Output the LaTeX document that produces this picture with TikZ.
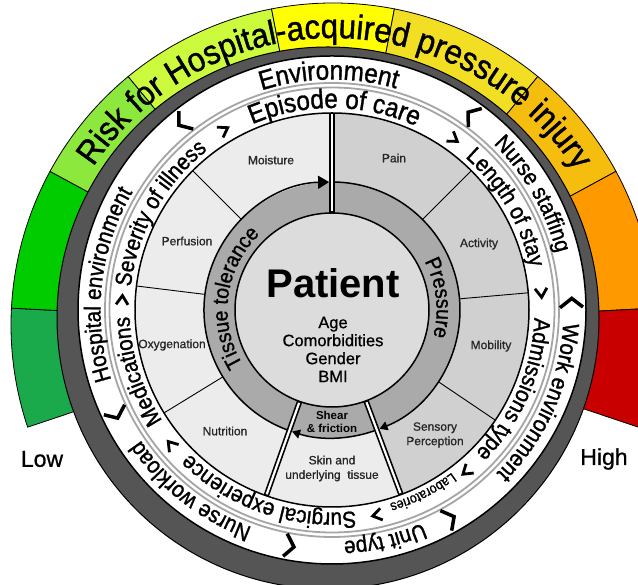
\documentclass[tikz,border=0pt]{standalone}
\usepackage{fontspec}
\setmainfont{Liberation Sans}
\newfontfamily\medium{Liberation Sans}[FakeBold=1.2,FakeStretch=0.9]
\newfontfamily\ttlfont{Liberation Sans}[FakeBold=1.2,FakeStretch=0.92]
\newfontfamily\semi{Liberation Sans}[FakeBold=0.8]
\usetikzlibrary{decorations.text,arrows.meta}
\definecolor{bA}{RGB}{26,170,76}
\definecolor{bB}{RGB}{0,204,0}
\definecolor{bC}{RGB}{140,232,60}
\definecolor{bD}{RGB}{204,250,60}
\definecolor{bE}{RGB}{255,255,0}
\definecolor{bF}{RGB}{242,222,34}
\definecolor{bG}{RGB}{245,190,15}
\definecolor{bH}{RGB}{255,153,0}
\definecolor{bI}{RGB}{200,0,0}
\definecolor{ringgray}{RGB}{85,85,85}
\definecolor{dblgray}{RGB}{165,165,165}
\definecolor{seclight}{RGB}{236,236,236}
\definecolor{secdark}{RGB}{208,208,208}
\definecolor{tissue}{RGB}{170,170,170}
\definecolor{patientfill}{RGB}{220,220,220}
\newcommand\fT{\ttlfont\fontsize{34}{34}\selectfont}
\newcommand\fE{\medium\fontsize{27}{27}\selectfont}
\newcommand\fO{\medium\fontsize{23}{23}\selectfont}
\newcommand\fL{\medium\fontsize{14}{14}\selectfont}
\newcommand\fG{\medium\fontsize{21.5}{21.5}\selectfont}
\newcommand\arctext[5]{\path[decorate,decoration={text along path,text align=center,text={|#1|#5}}] (#3+#4:#2) arc[start angle=#3+#4,end angle=#3-#4,radius=#2];}
\tikzset{
  ochev/.pic={\draw[line width=3.5pt,line join=miter] (-12,-4.5) -- (0,4.5) -- (11,-4.5);},
  ichev/.pic={\draw[line width=2.8pt,line join=miter] (-6,4.5) -- (0,-4.5) -- (6,4.5);},
  lab/.style={font=\semi\fontsize{12}{14.5}\selectfont, text=black!85, align=center, inner sep=0pt},
  dline/.style={line width=5.5pt},
  dlinein/.style={white,line width=2.2pt},
  tip/.style={line width=1.5pt,-{Triangle[length=11pt,width=13pt]}},
  stip/.style={line width=1.5pt,-{Triangle[length=8pt,width=9pt]}}
}
\begin{document}
\begin{tikzpicture}[x=1pt,y=1pt]
\useasboundingbox (0,0) rectangle (638,585);
\clip (0,0) rectangle (638,585);
\fill[white] (0,0) rectangle (638,585);
% risk band
\begin{scope}[shift={(333,260)}]
\foreach \a/\b/\c in {198.5/177/bA,177/151.5/bB,151.5/129.5/bC,129.5/101/bD,101/79/bE,79/50.5/bF,50.5/28.5/bG,28.5/3/bH,3/-18.5/bI}{
  \filldraw[fill=\c,draw=black,line width=0.8pt] (\a:262) arc[start angle=\a,end angle=\b,radius=262] -- (\b:322) arc[start angle=\b,end angle=\a,radius=322] -- cycle;
}
\end{scope}
% dark shadow ring
\filldraw[fill=ringgray,draw=black,line width=1pt] (328,267) circle[radius=271];
\begin{scope}[shift={(333,260)}]
\arctext{\fT}{287}{89.5}{80}{Risk for Hospital-acquired pressure injury}
\end{scope}
\begin{scope}[shift={(332,275)}]
\filldraw[fill=white,draw=black,line width=1.5pt] (0,0) circle[radius=254];
\draw[dblgray,line width=1.8pt] (0,0) circle[radius=222.5] (0,0) circle[radius=227];
\fill[seclight] (0,0) circle[radius=197];
\fill[secdark] (0,0) -- (-69.5:197) arc[start angle=-69.5,end angle=90,radius=197] -- cycle;
\draw[line width=1.5pt] (0,0) circle[radius=197];
\foreach \a in {135,173,211.5,45,5,-34} \draw[line width=0.9pt] (\a:127) -- (\a:197);
\fill[tissue] (0,0) circle[radius=128];
\filldraw[fill=patientfill,draw=black,line width=1.5pt] (0,0) circle[radius=97];
\draw[tip] (250.5:128) arc[start angle=250.5,end angle=91.3,radius=128];
\draw[stip] (88.7:128) arc[start angle=88.7,end angle=-68.2,radius=128];
\draw[stip] (-70.8:128) arc[start angle=-70.8,end angle=-108.2,radius=128];
\foreach \a in {90,-69.5,-109.5}{
  \draw[dline] (\a:97) -- (\a:197);
  \draw[dlinein] (\a:98.5) -- (\a:195.5);
}
% outer band texts
\arctext{\fE}{230.5}{90.8}{45}{Environment}
\arctext{\fO}{231.5}{30}{45}{Nurse staffing}
\arctext{\fO}{231.5}{-24}{45}{Work environment}
\arctext{\fO}{231.5}{-77}{45}{Unit type}
\arctext{\fO}{231.5}{-128}{45}{Nurse workload}
\arctext{\fO}{231.5}{173.5}{45}{Hospital environment}
% inner band texts
\arctext{\fE}{202}{89.3}{45}{Episode of care}
\arctext{\fO}{202.5}{30.5}{45}{Length of stay}
\arctext{\fO}{202.5}{-23.5}{45}{Admissions type}
\arctext{\fL}{202}{-63.5}{30}{Laboratories}
\arctext{\fO}{202.5}{-109}{45}{Surgical experience}
\arctext{\fO}{202.5}{197.5}{45}{Medications}
\arctext{\fO}{202.5}{150.7}{45}{Severity of illness}
% gray ring texts
\arctext{\fG}{104.5}{172.5}{60}{Tissue tolerance}
\arctext{\fG}{104.5}{6.5}{60}{Pressure}
% chevrons
\foreach \a in {128.6,54.4,1.7,-60.5,-100.2,-154.3} \pic[rotate=\a] at (\a:240) {ochev};
\foreach \a in {121,54.6,4.7,-50.2,-77.6,-140,177.3} \pic[rotate=\a] at (\a:210) {ichev};
\end{scope}
% labels
\node[lab] (moist) at (271,425) {Moisture};
\node[lab] (pain) at (394,427) {Pain};
\node[lab] (perf) at (187,344) {Perfusion};
\node[lab] (act) at (479,341) {Activity};
\node[lab] (oxy) at (172,240) {Oxygenation};
\node[lab] (mob) at (491,239) {Mobility};
\node[lab] (nut) at (225,154) {Nutrition};
\node[lab] (sens) at (435,150) {Sensory\\Perception};
\node[lab] (skin) at (332,116.5) {Skin and\\underlying\ \ tissue};
\node[font=\bfseries\fontsize{40}{40}\selectfont,inner sep=0pt] (pat) at (333,301.5) {Patient};
\node[font=\semi\fontsize{16.5}{18}\selectfont,align=center,inner sep=0pt] (demo) at (333,235.5) {Age\\Comorbidities\\Gender\\BMI};
\node[font=\bfseries\fontsize{11.5}{13}\selectfont,align=center,inner sep=0pt] (shear) at (332,163.5) {Shear\\\& friction};
\node[font=\semi\fontsize{23}{23}\selectfont,inner sep=0pt] (low) at (42,126) {Low};
\node[font=\semi\fontsize{23}{23}\selectfont,inner sep=0pt] (high) at (604,126) {High};
\end{tikzpicture}
\end{document}
